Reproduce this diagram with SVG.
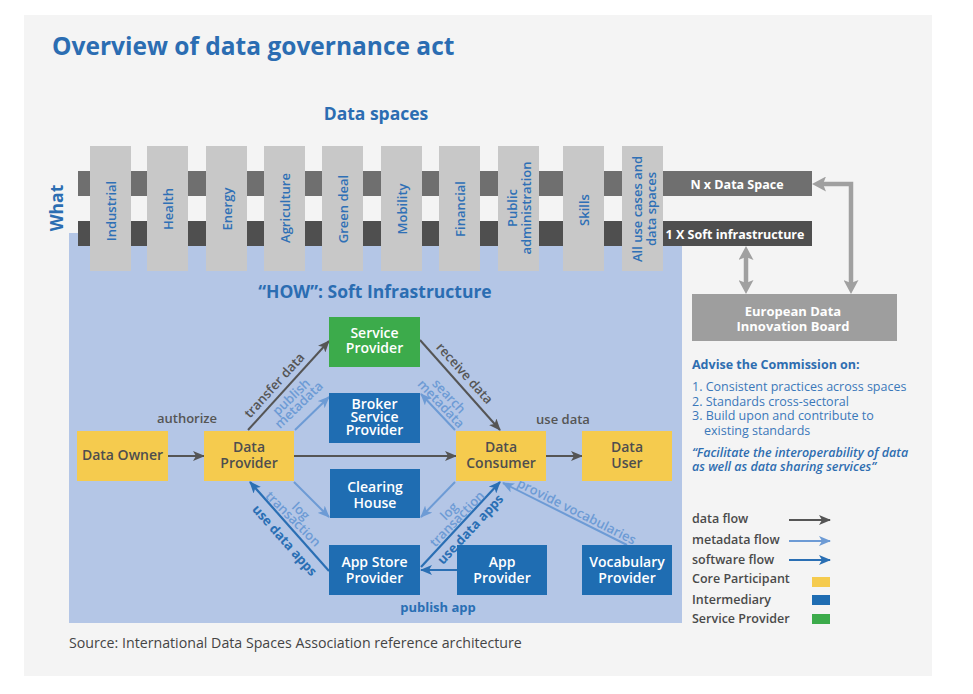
<svg xmlns="http://www.w3.org/2000/svg" width="973" height="694" viewBox="0 0 973 694">
<style>
text{font-family:"Open Sans","Liberation Sans",sans-serif}
.t{font-size:24.5px;font-weight:700;fill:#2b6db2}
.h{font-size:17.5px;font-weight:700;fill:#2b6db2;text-anchor:middle}
.col{fill:#c8c8c8}
.ct{font-size:13px;font-weight:600;fill:#2f70b6;text-anchor:middle;dominant-baseline:central}
.bt{font-size:12.5px;font-weight:700;fill:#fff;text-anchor:middle}
.nb{fill:#1f6db2}.ny{fill:#f5cb4e}.ng{fill:#3cab4b}
.nw{font-size:14px;font-weight:600;fill:#fff;text-anchor:middle}
.nd{font-size:14px;font-weight:600;fill:#4e4e4e;text-anchor:middle}
.ld{font-size:13px;font-weight:600;fill:#555;text-anchor:middle;dominant-baseline:central}
.lm{font-size:13px;font-weight:600;fill:#6d9bd5;text-anchor:middle}
.ls{font-size:13px;font-weight:700;fill:#2a6fb4;text-anchor:middle;dominant-baseline:central}
.fd{stroke:#555;stroke-width:2;fill:none;marker-end:url(#mD)}
.fm{stroke:#6d9bd5;stroke-width:2;fill:none;marker-end:url(#mM)}
.fs{stroke:#2a6fb4;stroke-width:2.2;fill:none;marker-end:url(#mS)}
.fg{stroke:#a0a0a0;stroke-width:4.5;fill:none;marker-start:url(#mG);marker-end:url(#mG)}
.lg{font-size:12.5px;font-weight:600;fill:#4a4a4a}
.adv{font-size:12.5px;fill:#3b78ba}
</style>
<defs>
<marker id="mD" viewBox="0 0 12 10" refX="11" refY="5" markerWidth="12" markerHeight="10" markerUnits="userSpaceOnUse" orient="auto"><path d="M0,0 L12,5 L0,10 L3,5 z" fill="#555"/></marker>
<marker id="mM" viewBox="0 0 12 10" refX="11" refY="5" markerWidth="12" markerHeight="10" markerUnits="userSpaceOnUse" orient="auto"><path d="M0,0 L12,5 L0,10 L3,5 z" fill="#6d9bd5"/></marker>
<marker id="mS" viewBox="0 0 12 10" refX="11" refY="5" markerWidth="12" markerHeight="10" markerUnits="userSpaceOnUse" orient="auto"><path d="M0,0 L12,5 L0,10 L3,5 z" fill="#2a6fb4"/></marker>
<marker id="mG" viewBox="0 0 14 15" refX="4" refY="7.5" markerWidth="14" markerHeight="15" markerUnits="userSpaceOnUse" orient="auto-start-reverse"><path d="M0,0 L14,7.5 L0,15 L3,7.5 z" fill="#a0a0a0"/></marker>
</defs>
<rect x="0" y="0" width="973" height="694" fill="#fff"/>
<rect x="24" y="15" width="908" height="661" fill="#f4f4f4"/>
<text class="t" x="52" y="55">Overview of data governance act</text>
<text class="h" x="376" y="120">Data spaces</text>
<text class="h" transform="translate(63,208) rotate(-90)">What</text>

<rect x="69" y="233" width="613" height="390" fill="#b4c6e6"/>
<g id="bars">
<rect x="78" y="171" width="734" height="25" fill="#6f6f6f"/>
<rect x="78" y="221" width="734" height="25" fill="#4f4f4f"/>
<text class="bt" x="737" y="188.5">N x Data Space</text>
<text class="bt" x="735" y="238.5">1 X  Soft infrastructure</text>
</g>
<g id="columns">
<rect class="col" x="90" y="146" width="41" height="125"/>
<rect class="col" x="147" y="146" width="41" height="125"/>
<rect class="col" x="206" y="146" width="41" height="125"/>
<rect class="col" x="264" y="146" width="41" height="125"/>
<rect class="col" x="322" y="146" width="41" height="125"/>
<rect class="col" x="381" y="146" width="41" height="125"/>
<rect class="col" x="439" y="146" width="41" height="125"/>
<rect class="col" x="498" y="146" width="41" height="125"/>
<rect class="col" x="563" y="146" width="41" height="125"/>
<rect class="col" x="622" y="146" width="41" height="125"/>
<text class="ct" transform="translate(110.5,211) rotate(-90)">Industrial</text>
<text class="ct" transform="translate(167.5,209) rotate(-90)">Health</text>
<text class="ct" transform="translate(226.5,209) rotate(-90)">Energy</text>
<text class="ct" transform="translate(284.5,208) rotate(-90)">Agriculture</text>
<text class="ct" transform="translate(342.5,209) rotate(-90)">Green deal</text>
<text class="ct" transform="translate(401.5,209) rotate(-90)">Mobility</text>
<text class="ct" transform="translate(459.5,209) rotate(-90)">Financial</text>
<text class="ct" transform="translate(518.5,208) rotate(-90)"><tspan x="0" y="-6.5">Public</tspan><tspan x="0" y="7">administration</tspan></text>
<text class="ct" transform="translate(583.5,210) rotate(-90)">Skills</text>
<text class="ct" transform="translate(642.5,209) rotate(-90)"><tspan x="0" y="-6">All use cases and</tspan><tspan x="0" y="8">data spaces</tspan></text>
</g>

<g id="edib">
<rect x="692" y="294" width="205" height="47" fill="#9e9e9e"/>
<text class="bt" x="793" y="316" style="font-size:13px">European Data</text>
<text class="bt" x="793" y="331" style="font-size:13px">Innovation Board</text>
</g>
<g id="edib-connectors">
<path class="fg" d="M822,184 H851 V284"/>
<path class="fg" d="M746,256 V284"/>
</g>

<g id="advice">
<text x="692" y="369" style="font-size:12.5px;font-weight:700;fill:#2e6db0">Advise the Commission on:</text>
<text class="adv" x="692" y="391">1. Consistent practices across spaces</text>
<text class="adv" x="692" y="406">2. Standards cross-sectoral</text>
<text class="adv" x="692" y="420">3. Build upon and contribute to</text>
<text class="adv" x="704" y="435">existing standards</text>
<text x="692" y="457" style="font-size:12.5px;font-weight:600;font-style:italic;fill:#2e6db0">“Facilitate the interoperability of data</text>
<text x="692" y="471" style="font-size:12.5px;font-weight:600;font-style:italic;fill:#2e6db0">as well as data sharing services”</text>
</g>

<text class="h" x="375" y="298">“HOW”: Soft Infrastructure</text>

<g id="connectors">
<line class="fd" x1="168" y1="456" x2="204" y2="456"/>
<line class="fd" x1="248" y1="430" x2="329" y2="341"/>
<line class="fm" x1="295" y1="430" x2="329" y2="397"/>
<line class="fd" x1="420" y1="340" x2="500" y2="430"/>
<line class="fm" x1="455" y1="430" x2="421" y2="394"/>
<line class="fd" x1="294" y1="456" x2="456" y2="456"/>
<line class="fd" x1="546" y1="456" x2="582" y2="456"/>
<line class="fm" x1="294" y1="482" x2="329" y2="517"/>
<line class="fm" x1="455" y1="482" x2="421" y2="517"/>
<line class="fs" x1="329" y1="571" x2="250" y2="482"/>
<line class="fs" x1="421" y1="567" x2="500" y2="482"/>
<line class="fs" x1="457" y1="570" x2="421" y2="570"/>
<line class="fm" x1="627" y1="545" x2="503" y2="483"/>
<text class="ld" x="187" y="418">authorize</text>
<text class="ld" transform="translate(274,385) rotate(-47.7)">transfer data</text>
<text class="lm" transform="translate(295,401) rotate(-44)"><tspan x="0" y="-1">publish</tspan><tspan x="0" y="10">metadata</tspan></text>
<text class="ld" transform="translate(465,373) rotate(48)">receive data</text>
<text class="lm" transform="translate(445,400) rotate(46.6)"><tspan x="0" y="-1">search</tspan><tspan x="0" y="10">metadata</tspan></text>
<text class="ld" x="563" y="419">use data</text>
<text class="lm" transform="translate(297,515) rotate(45)"><tspan x="0" y="-1">log</tspan><tspan x="0" y="10">transaction</tspan></text>
<text class="lm" transform="translate(453,515) rotate(-45.8)"><tspan x="0" y="-1">log</tspan><tspan x="0" y="10">transaction</tspan></text>
<text class="ls" transform="translate(285,540) rotate(48.4)">use data apps</text>
<text class="ls" transform="translate(470,529) rotate(-47)">use data apps</text>
<text class="ls" x="438" y="607">publish app</text>
<text class="lm" transform="translate(577,511) rotate(26.6)" style="dominant-baseline:central">provide vocabularies</text>
</g>

<g id="service-provider"><rect class="ng" x="329" y="317" width="91" height="50"/><text class="nw" x="374.5" y="338">Service</text><text class="nw" x="374.5" y="353">Provider</text></g>
<g id="broker"><rect class="nb" x="329" y="393" width="91" height="50"/><text class="nw" x="374.5" y="408.5">Broker</text><text class="nw" x="374.5" y="421.5">Service</text><text class="nw" x="374.5" y="434.5">Provider</text></g>
<g id="data-owner"><rect class="ny" x="77" y="431" width="91" height="50"/><text class="nd" x="122.5" y="460">Data Owner</text></g>
<g id="data-provider"><rect class="ny" x="204" y="431" width="90" height="50"/><text class="nd" x="249" y="452">Data</text><text class="nd" x="249" y="468">Provider</text></g>
<g id="data-consumer"><rect class="ny" x="456" y="431" width="90" height="50"/><text class="nd" x="501" y="452">Data</text><text class="nd" x="501" y="468">Consumer</text></g>
<g id="data-user"><rect class="ny" x="582" y="431" width="90" height="50"/><text class="nd" x="627" y="452">Data</text><text class="nd" x="627" y="468">User</text></g>
<g id="clearing-house"><rect class="nb" x="330" y="469" width="90" height="49"/><text class="nw" x="375" y="492">Clearing</text><text class="nw" x="375" y="508">House</text></g>
<g id="app-store"><rect class="nb" x="329" y="545" width="91" height="50"/><text class="nw" x="374.5" y="567">App Store</text><text class="nw" x="374.5" y="583">Provider</text></g>
<g id="app-provider"><rect class="nb" x="457" y="545" width="90" height="50"/><text class="nw" x="502" y="567">App</text><text class="nw" x="502" y="583">Provider</text></g>
<g id="vocabulary-provider"><rect class="nb" x="582" y="545" width="90" height="50"/><text class="nw" x="627" y="567">Vocabulary</text><text class="nw" x="627" y="583">Provider</text></g>

<g id="legend">
<text class="lg" x="692" y="523">data flow</text>
<text class="lg" x="692" y="544">metadata flow</text>
<text class="lg" x="692" y="564">software flow</text>
<text class="lg" x="692" y="583">Core Participant</text>
<text class="lg" x="692" y="604">Intermediary</text>
<text class="lg" x="692" y="623">Service Provider</text>
<line class="fd" x1="789" y1="520" x2="830" y2="520"/>
<line class="fm" x1="789" y1="541" x2="830" y2="541"/>
<line class="fs" x1="789" y1="560" x2="830" y2="560"/>
<rect class="ny" x="812" y="577" width="18" height="10"/>
<rect class="nb" x="812" y="595" width="18" height="10"/>
<rect class="ng" x="812" y="614" width="18" height="10"/>
</g>
<text x="69" y="648" style="font-size:14.2px;fill:#444">Source: International Data Spaces Association reference architecture</text>
</svg>
